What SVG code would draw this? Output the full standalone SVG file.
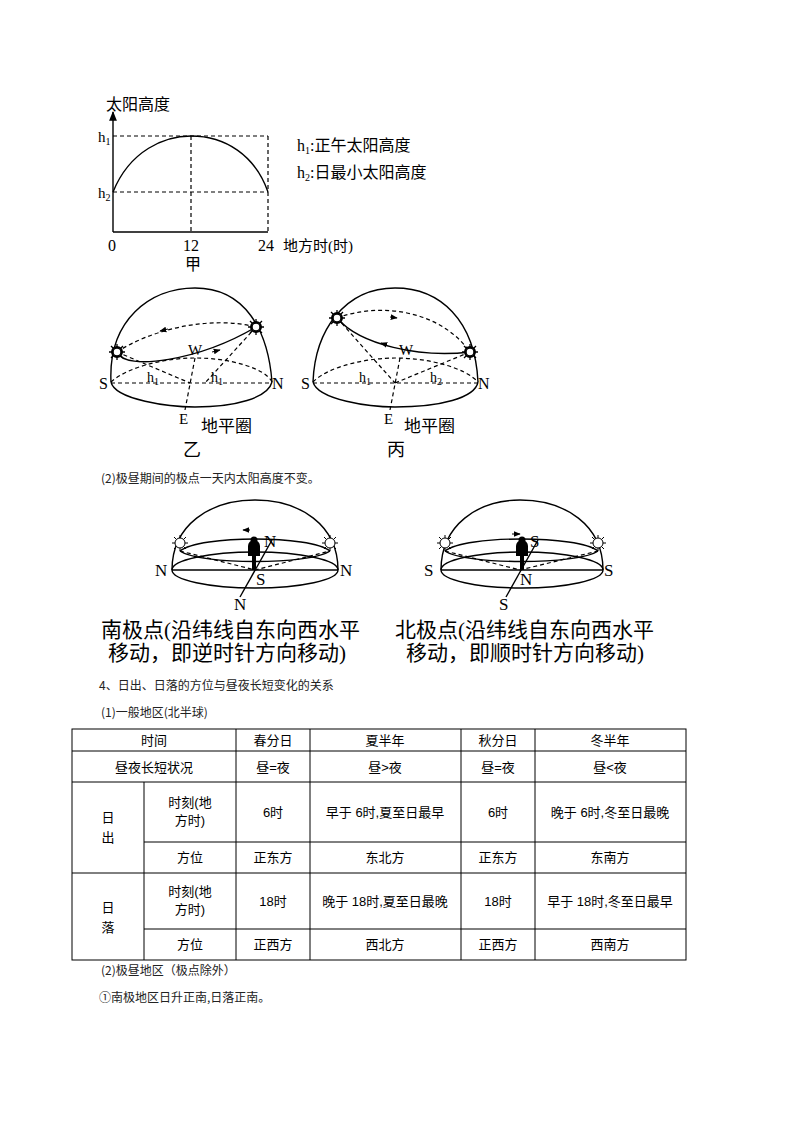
<svg xmlns="http://www.w3.org/2000/svg" width="794" height="1123" viewBox="0 0 794 1123">
<style>
.s{fill:none;stroke:#000;stroke-width:1.4}
.d{fill:none;stroke:#000;stroke-width:1.2;stroke-dasharray:4 3}
.t{font-family:"Liberation Serif","Noto Sans CJK SC",serif;fill:#000}
.c{font-family:"Liberation Sans","Noto Sans CJK SC",sans-serif;fill:#000;font-size:13px}
.g{font-family:"Noto Sans CJK SC",sans-serif;fill:#222}
.tb{fill:none;stroke:#000;stroke-width:1}
</style>
<defs>
<marker id="ar" viewBox="0 0 10 10" refX="9" refY="5" markerWidth="7" markerHeight="7" orient="auto"><path d="M0,1L10,5L0,9z" fill="#000"/></marker>
<g id="sun"><circle r="5" fill="#fff" stroke="#000" stroke-width="2"/><path d="M0,-8V8M-8,0H8M-6,-6L6,6M-6,6L6,-6" stroke="#000" stroke-width="1.3"/><circle r="4" fill="#fff" stroke="#000" stroke-width="1.5"/></g>
<g id="sun2"><path d="M0,-8V8M-8,0H8M-6,-6L6,6M-6,6L6,-6" stroke="#000" stroke-width="1"/><circle r="5" fill="#fff" stroke="#000" stroke-width="1"/></g>
</defs>

<g id="chart-jia">
<line class="s" x1="113" y1="232" x2="113" y2="112" marker-end="url(#ar)"/>
<line class="s" x1="113" y1="232" x2="268" y2="232"/>
<line class="d" x1="113" y1="136" x2="268" y2="136"/>
<line class="d" x1="113" y1="192" x2="268" y2="192"/>
<line class="d" x1="191" y1="136" x2="191" y2="232"/>
<line class="d" x1="268" y1="136" x2="268" y2="232"/>
<path class="s" d="M113,192 C130,150 165,136 191,136 C225,136 255,155 268,192"/>
<text class="t" x="106" y="110" font-size="16">太阳高度</text>
<text class="t" x="98" y="142" font-size="15">h<tspan font-size="10" dy="3">1</tspan></text>
<text class="t" x="98" y="198" font-size="15">h<tspan font-size="10" dy="3">2</tspan></text>
<text class="t" x="108" y="251" font-size="16">0</text>
<text class="t" x="183" y="251" font-size="16">12</text>
<text class="t" x="258" y="251" font-size="16">24</text>
<text class="t" x="283" y="251" font-size="15">地方时(时)</text>
<text class="t" x="185" y="270" font-size="16">甲</text>
<text class="t" x="297" y="151" font-size="16">h<tspan font-size="10" dy="3">1</tspan><tspan dy="-3">:正午太阳高度</tspan></text>
<text class="t" x="297" y="178" font-size="16">h<tspan font-size="10" dy="3">2</tspan><tspan dy="-3">:日最小太阳高度</tspan></text>
</g>

<g id="dome-yi">
<path class="s" d="M111,382 C108,320 150,288 195,288 C245,288 268,330 272,382"/>
<path class="s" d="M111,382 C115,400 170,407 195,407 C235,407 268,398 272,382"/>
<line class="d" x1="111" y1="383" x2="272" y2="383"/>
<path class="d" d="M111,382 C130,365 170,358 195,358 C230,358 265,368 272,382"/>
<path class="s" d="M117,352 C125,372 200,360 256,327"/>
<path class="d" d="M117,352 C150,330 210,315 256,327"/>
<line x1="168" y1="329" x2="160" y2="331" stroke="#000" marker-end="url(#ar)"/>
<line x1="212" y1="352" x2="220" y2="350" stroke="#000" marker-end="url(#ar)"/>
<path class="d" d="M117,352 L190,383 M256,327 L205,383 M195,358 L185,410"/>
<use href="#sun" x="117" y="352"/><use href="#sun" x="256" y="327"/>
<text class="t" x="99" y="389" font-size="16">S</text>
<text class="t" x="272" y="389" font-size="16">N</text>
<text class="t" x="188" y="355" font-size="15">W</text>
<text class="t" x="147" y="382" font-size="14">h<tspan font-size="10" dy="3">1</tspan></text>
<text class="t" x="211" y="382" font-size="14">h<tspan font-size="10" dy="3">1</tspan></text>
<text class="t" x="179" y="424" font-size="15">E</text>
<text class="t" x="201" y="432" font-size="17">地平圈</text>
<text class="t" x="183" y="456" font-size="18">乙</text>
</g>

<g id="dome-bing">
<path class="s" d="M313,382 C315,330 345,288 395,288 C440,288 475,320 478,382"/>
<path class="s" d="M313,382 C318,400 370,407 395,407 C440,407 475,398 478,382"/>
<line class="d" x1="313" y1="383" x2="478" y2="383"/>
<path class="d" d="M313,382 C330,365 370,358 395,358 C430,358 465,368 478,382"/>
<path class="s" d="M337,318 C360,345 420,358 470,352"/>
<path class="d" d="M337,318 C380,302 440,310 470,352"/>
<line x1="390" y1="317" x2="397" y2="318" stroke="#000" marker-end="url(#ar)"/>
<line x1="387" y1="345" x2="381" y2="343" stroke="#000" marker-end="url(#ar)"/>
<path class="d" d="M337,318 L395,383 M470,352 L395,383 M400,358 L390,410"/>
<use href="#sun" x="337" y="318"/><use href="#sun" x="470" y="352"/>
<text class="t" x="301" y="389" font-size="16">S</text>
<text class="t" x="478" y="389" font-size="16">N</text>
<text class="t" x="399" y="355" font-size="15">W</text>
<text class="t" x="359" y="382" font-size="14">h<tspan font-size="10" dy="3">1</tspan></text>
<text class="t" x="430" y="382" font-size="14">h<tspan font-size="10" dy="3">2</tspan></text>
<text class="t" x="384" y="424" font-size="15">E</text>
<text class="t" x="404" y="432" font-size="17">地平圈</text>
<text class="t" x="387" y="456" font-size="18">丙</text>
</g>

<text class="g" x="101" y="483" font-size="12">(2)极昼期间的极点一天内太阳高度不变。</text>

<g id="pole-south">
<path class="s" d="M172,570 C172,525 210,500 255,500 C300,500 338,525 338,570"/>
<ellipse class="s" cx="255" cy="570" rx="83" ry="18"/>
<line class="s" x1="172" y1="570" x2="338" y2="570"/>
<path class="s" d="M180,551 C200,535 310,535 330,551"/>
<path class="s" d="M180,551 C200,565 310,565 330,551"/>
<line x1="250" y1="530" x2="243" y2="530" stroke="#000" marker-end="url(#ar)"/>
<path class="d" d="M180,551 L255,570 L330,551"/>
<line class="s" x1="240" y1="597" x2="272" y2="540"/>
<path d="M252,570 v-14 h-4 v-10 a6,6 0 0 1 12,0 v10 h-4 v14z" fill="#000"/><circle cx="254" cy="540" r="3.5"/>
<use href="#sun2" x="180" y="543"/><use href="#sun2" x="330" y="543"/>
<text class="t" x="155" y="576" font-size="17">N</text>
<text class="t" x="340" y="576" font-size="17">N</text>
<text class="t" x="264" y="547" font-size="17">N</text>
<text class="t" x="256" y="585" font-size="17">S</text>
<text class="t" x="234" y="610" font-size="17">N</text>
<text class="t" x="101" y="637" font-size="21">南极点(沿纬线自东向西水平</text>
<text class="t" x="108" y="660" font-size="21">移动，即逆时针方向移动)</text>
</g>

<g id="pole-north">
<path class="s" d="M441,570 C441,525 478,500 520,500 C565,500 603,525 603,570"/>
<ellipse class="s" cx="522" cy="570" rx="81" ry="18"/>
<line class="s" x1="441" y1="570" x2="603" y2="570"/>
<path class="s" d="M445,551 C465,535 578,535 598,551"/>
<path class="s" d="M445,551 C465,565 578,565 598,551"/>
<line x1="512" y1="534" x2="520" y2="534" stroke="#000" marker-end="url(#ar)"/>
<path class="d" d="M445,551 L520,570 L598,551"/>
<line class="s" x1="506" y1="597" x2="538" y2="540"/>
<path d="M520,570 v-14 h-4 v-10 a6,6 0 0 1 12,0 v10 h-4 v14z" fill="#000"/><circle cx="522" cy="540" r="3.5"/>
<use href="#sun2" x="445" y="543"/><use href="#sun2" x="598" y="543"/>
<text class="t" x="424" y="576" font-size="17">S</text>
<text class="t" x="604" y="576" font-size="17">S</text>
<text class="t" x="530" y="547" font-size="17">S</text>
<text class="t" x="520" y="585" font-size="17">N</text>
<text class="t" x="499" y="610" font-size="17">S</text>
<text class="t" x="395" y="637" font-size="21">北极点(沿纬线自东向西水平</text>
<text class="t" x="406" y="660" font-size="21">移动，即顺时针方向移动)</text>
</g>

<text class="g" x="99" y="690" font-size="12">4、日出、日落的方位与昼夜长短变化的关系</text>
<text class="g" x="101" y="717" font-size="12">(1)一般地区(北半球)</text>

<g id="table">
<rect class="tb" x="72" y="729" width="614" height="231"/>
<path class="tb" d="M72,751H686M72,782H686M144,842H686M72,873H686M144,929H686M236,729V960M310,729V960M461,729V960M535,729V960M144,782V960"/>
<g class="c" text-anchor="middle">
<text x="154" y="745">时间</text><text x="273" y="745">春分日</text><text x="385" y="745">夏半年</text><text x="498" y="745">秋分日</text><text x="610" y="745">冬半年</text>
<text x="154" y="772">昼夜长短状况</text><text x="273" y="772">昼=夜</text><text x="385" y="772">昼&gt;夜</text><text x="498" y="772">昼=夜</text><text x="610" y="772">昼&lt;夜</text>
<text x="108" y="822">日</text><text x="108" y="842">出</text>
<text x="190" y="807">时刻(地</text><text x="190" y="825">方时)</text>
<text x="273" y="817">6时</text><text x="385" y="817">早于 6时,夏至日最早</text><text x="498" y="817">6时</text><text x="610" y="817">晚于 6时,冬至日最晚</text>
<text x="190" y="862">方位</text><text x="273" y="862">正东方</text><text x="385" y="862">东北方</text><text x="498" y="862">正东方</text><text x="610" y="862">东南方</text>
<text x="108" y="912">日</text><text x="108" y="932">落</text>
<text x="190" y="896">时刻(地</text><text x="190" y="914">方时)</text>
<text x="273" y="906">18时</text><text x="385" y="906">晚于 18时,夏至日最晚</text><text x="498" y="906">18时</text><text x="610" y="906">早于 18时,冬至日最早</text>
<text x="190" y="949">方位</text><text x="273" y="949">正西方</text><text x="385" y="949">西北方</text><text x="498" y="949">正西方</text><text x="610" y="949">西南方</text>
</g>
</g>
<text class="g" x="101" y="975" font-size="12">(2)极昼地区（极点除外）</text>
<text class="g" x="99" y="1002" font-size="12">①南极地区日升正南,日落正南。</text>
</svg>
